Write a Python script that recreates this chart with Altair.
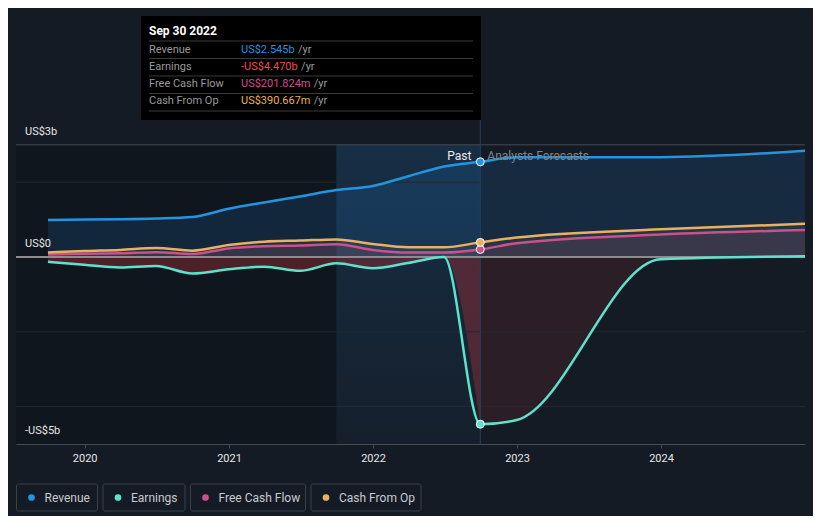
import altair as alt
import pandas as pd

# ---------------- data (US$ billions) ----------------
past_dates = ["2019-09-30", "2019-12-31", "2020-03-31", "2020-06-30", "2020-09-30",
              "2020-12-31", "2021-03-31", "2021-06-30", "2021-09-30", "2021-12-31",
              "2022-03-31", "2022-06-30", "2022-09-30"]
forecast_dates = ["2022-12-31", "2023-12-31", "2024-12-31"]

revenue_past = [0.99, 1.00, 1.01, 1.03, 1.07, 1.29, 1.46, 1.62, 1.79, 1.90, 2.16, 2.42, 2.545]
revenue_fc = [2.67, 2.67, 2.84]
earnings_past = [-0.13, -0.21, -0.28, -0.24, -0.44, -0.33, -0.26, -0.37, -0.17, -0.30, -0.16, 0.0, -4.47]
earnings_fc = [-4.36, -0.06, 0.02]
fcf_past = [0.07, 0.09, 0.10, 0.13, 0.08, 0.23, 0.29, 0.31, 0.34, 0.19, 0.12, 0.12, 0.202]
fcf_fc = [0.37, 0.60, 0.72]
cfo_past = [0.12, 0.16, 0.19, 0.24, 0.17, 0.32, 0.41, 0.44, 0.47, 0.35, 0.26, 0.26, 0.391]
cfo_fc = [0.52, 0.74, 0.89]

series_names = ["Revenue", "Earnings", "Free Cash Flow", "Cash From Op"]
series_colors = ["#2394df", "#5de3cc", "#c9518c", "#e9b062"]

tooltip_date = "Sep 30 2022"
tooltip_values = ["US$2.545b", "-US$4.470b", "US$201.824m", "US$390.667m"]
tooltip_value_colors = ["#2394df", "#f24a4a", "#d24d92", "#eeb056"]

y_tick_values = [3, 0, -5]
y_tick_labels = ["US$3b", "US$0", "-US$5b"]
grid_values = [2, -2, -4]
x_tick_years = [2020, 2021, 2022, 2023, 2024]

last_past = "2022-09-30"
highlight_start = "2021-09-30"
view_start = "2019-07-11"

# ---------------- build tables ----------------
rows = []
for name, past, fc in zip(series_names,
                          [revenue_past, earnings_past, fcf_past, cfo_past],
                          [revenue_fc, earnings_fc, fcf_fc, cfo_fc]):
    for d, v in zip(past_dates + forecast_dates, past + fc):
        rows.append({"date": d, "value": v, "series": name})
df = pd.DataFrame(rows)

# ---------------- scales ----------------
W, H = 789, 428
x_scale = alt.Scale(type="utc", domain=[alt.DateTime(year=2019, month=7, date=11, utc=True),
                                        alt.DateTime(year=2024, month=12, date=31, utc=True)])
y_scale = alt.Scale(domain=[-5, 6.444], nice=False, zero=False)
color_scale = alt.Scale(domain=series_names, range=series_colors)
FONT = "Roboto"

x_axis = alt.Axis(values=[alt.DateTime(year=y, month=1, date=1, utc=True) for y in x_tick_years],
                  format="%Y", formatType="time", labelColor="#e6e6e6", labelFontSize=11, labelFont=FONT,
                  domainColor="#474c54", tickColor="#474c54", tickSize=4, grid=False,
                  title=None, labelPadding=4, labelFlush=False)


def X(field="date"):
    return alt.X(f"{field}:T", scale=x_scale, axis=x_axis)


def Y(field="value"):
    return alt.Y(f"{field}:Q", scale=y_scale, axis=None)


one = pd.DataFrame({"k": [0]})

# background regions
left_rect = alt.Chart(pd.DataFrame({"start": [view_start], "end": [highlight_start], "lo": [-5], "hi": [3]})
                      ).mark_rect(color="#0b0f14", opacity=0.4).encode(
    x=X("start"), x2="end", y=Y("lo"), y2="hi")

hl_rect = alt.Chart(pd.DataFrame({"start": [highlight_start], "end": [last_past], "lo": [-5], "hi": [3]})
                    ).mark_rect(color=alt.Gradient(
                        gradient="linear",
                        stops=[alt.GradientStop(offset=0, color="rgba(30,115,190,0.22)"),
                               alt.GradientStop(offset=1, color="rgba(30,115,190,0.05)")],
                        x1=0, x2=0, y1=0, y2=1)).encode(
    x=X("start"), x2="end", y=Y("lo"), y2="hi")


def area(series, color, opacity, data=None):
    d = df[df.series == series] if data is None else data
    return alt.Chart(d).mark_area(interpolate="monotone", color=color, opacity=opacity).encode(
        x=X(), y=Y(), y2=alt.datum(0))


rev_area = area("Revenue", "#1e6fb5", 0.2)
cfo_area = area("Cash From Op", "#e9b062", 0.08)
fcf_area = area("Free Cash Flow", "#c9518c", 0.12)
earn = df[df.series == "Earnings"]
earn_past_area = area("Earnings", "#8b2b35", 0.5, earn[earn.date <= last_past])
earn_fc_area = area("Earnings", "#8b2b35", 0.2, earn[earn.date >= last_past])

# grid
grid = alt.Chart(pd.DataFrame({"v": grid_values})).mark_rule(color="#232932", strokeWidth=1).encode(y=Y("v"))
top_rule = alt.Chart(pd.DataFrame({"v": [y_tick_values[0]]})).mark_rule(color="#454a52", strokeWidth=1).encode(y=Y("v"))
zero_rule = alt.Chart(pd.DataFrame({"v": [0]})).mark_rule(color="#8a8c90", strokeWidth=1.8).encode(y=Y("v"))
vline = alt.Chart(pd.DataFrame({"date": [last_past]})).mark_rule(color="#24405c", strokeWidth=1).encode(
    x=X(), y=alt.value(104), y2=alt.value(H))

lines = alt.Chart(df).mark_line(interpolate="monotone", strokeWidth=2.5).encode(
    x=X(), y=Y(),
    color=alt.Color("series:N", scale=color_scale, legend=None))

points = alt.Chart(df[df.date == last_past]).mark_circle(size=64, stroke="white", strokeWidth=1, opacity=1).encode(
    x=X(), y=Y(), color=alt.Color("series:N", scale=color_scale, legend=None))

past_txt = alt.Chart(pd.DataFrame({"date": [last_past]})).mark_text(
    text="Past", align="right", baseline="middle", dx=-9, color="#ececec", fontSize=12, font=FONT).encode(
    x=X(), y=alt.value(140))
fc_txt = alt.Chart(pd.DataFrame({"date": [last_past]})).mark_text(
    text="Analysts Forecasts", align="left", baseline="middle", dx=7, color="#80858c", fontSize=12, font=FONT).encode(
    x=X(), y=alt.value(140))

ylabels = alt.Chart(pd.DataFrame({"v": y_tick_values, "t": y_tick_labels})).mark_text(
    align="left", baseline="middle", dy=-13, color="#e6e6e6", fontSize=11, font=FONT).encode(
    x=alt.value(9), y=Y("v"), text="t:N")

# tooltip box
layers_tt = [alt.Chart(one).mark_rect(color="#000000").encode(
    x=alt.value(125), x2=alt.value(465), y=alt.value(0), y2=alt.value(104))]
layers_tt.append(alt.Chart(one).mark_text(text=tooltip_date, align="left", baseline="middle", color="#ffffff",
                                          fontSize=12, fontWeight="bold", font=FONT).encode(
    x=alt.value(133), y=alt.value(15)))
for py in [25, 42.5, 60, 77.5, 95]:
    layers_tt.append(alt.Chart(one).mark_rule(color="#3a3a3a").encode(
        x=alt.value(133), x2=alt.value(457), y=alt.value(py)))

CW = {"U": 7.2, "S": 6.6, "$": 6.2, ".": 2.9, "b": 6.2, "m": 9.6, "-": 3.2}


def text_w(s):
    return sum(CW.get(c, 6.2) for c in s)


for i, (name, val, col) in enumerate(zip(series_names, tooltip_values, tooltip_value_colors)):
    py = 33.5 + 17.3 * i
    layers_tt.append(alt.Chart(one).mark_text(text=name, align="left", baseline="middle", color="#9a9a9a",
                                              fontSize=11, font=FONT).encode(x=alt.value(133), y=alt.value(py)))
    layers_tt.append(alt.Chart(one).mark_text(text=val, align="left", baseline="middle", color=col,
                                              fontSize=11, font=FONT).encode(x=alt.value(225), y=alt.value(py)))
    layers_tt.append(alt.Chart(one).mark_text(text="/yr", align="left", baseline="middle", color="#9a9a9a",
                                              fontSize=11, font=FONT).encode(
        x=alt.value(225 + text_w(val) + 3), y=alt.value(py)))

# legend
box_w = [81, 82, 115, 110]
layers_lg = []
x0 = 0.5
for name, col, bw in zip(series_names, series_colors, box_w):
    layers_lg.append(alt.Chart(one).mark_rect(fillOpacity=0, stroke="#3b4049", strokeWidth=1, cornerRadius=2).encode(
        x=alt.value(x0), x2=alt.value(x0 + bw), y=alt.value(468), y2=alt.value(495)))
    layers_lg.append(alt.Chart(one).mark_circle(size=45, color=col, opacity=1).encode(
        x=alt.value(x0 + 15), y=alt.value(481.5)))
    layers_lg.append(alt.Chart(one).mark_text(text=name, align="left", baseline="middle", color="#c8cacf",
                                              fontSize=12, font=FONT).encode(
        x=alt.value(x0 + 28), y=alt.value(481.5)))
    x0 += bw + 5.5

chart = alt.layer(
    left_rect, hl_rect, rev_area, cfo_area, fcf_area, earn_past_area, earn_fc_area,
    grid, top_rule, vline, zero_rule, lines, points, past_txt, fc_txt, ylabels,
    *layers_tt, *layers_lg
).properties(
    width=W, height=H,
    autosize=alt.AutoSizeParams(type="none"),
    padding={"left": 8, "top": 8, "right": 8, "bottom": 72},
    background="#151b24",
).configure_view(stroke=None)

chart.save("out.html", embed_options={"renderer": "svg", "actions": False})
